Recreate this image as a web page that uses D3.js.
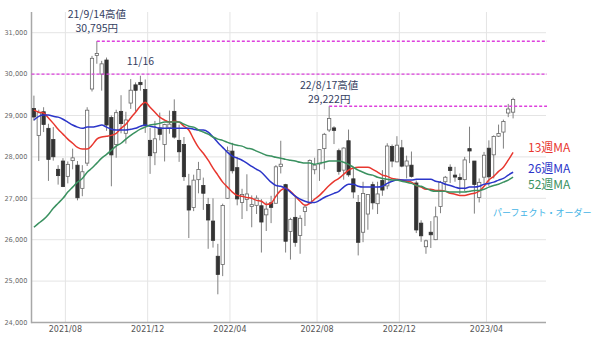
<!DOCTYPE html>
<html>
<head>
<meta charset="utf-8">
<script src="https://cdnjs.cloudflare.com/ajax/libs/d3/7.8.5/d3.min.js"></script>
<style>
    body { margin: 0; background: #fff; }
    svg { display: block; font-family: "Noto Sans CJK JP", "DejaVu Sans", sans-serif; }
    .grid line { stroke: #e4e4e4; stroke-width: 1; }
    .axis-line { stroke: #a8a8a8; stroke-width: 1.5; }
    .y-label { font-family: "DejaVu Sans", sans-serif; font-size: 6.6px; fill: #6a6a6a; }
    .x-label { font-family: "DejaVu Sans", sans-serif; font-size: 8px; fill: #555; }
    .wick { stroke: #808080; stroke-width: 1; }
    .high-line { stroke: #dd3fdd; stroke-width: 1.4; stroke-dasharray: 3 2; }
    .note { font-size: 10.5px; fill: #34405f; }
    .ma { fill: none; stroke-width: 1.5; }
</style>
</head>
<body>
<svg width="600" height="337"></svg>
<script>
// weekly candles, one per Friday from 2021-06-18 to 2023-05-12 (Nikkei 225)
const firstFriday = '2021-06-18';
const lastFriday = '2023-05-12';

const opens = [
    29170, 28520, 29090, 28690, 28420, 27700, 27900, 27530, 27910, 27800,
    27240, 27850, 29640, 30450, 30000, 30340, 28950, 28300, 29100, 28570,
    29300, 29740, 29800, 29630, 28400, 28100, 28700, 28300, 28700, 29100,
    28400, 28300, 27300, 26780, 27450, 27310, 26850, 26450, 25600, 25400,
    27000, 28140, 27740, 26900, 26970, 26800, 26830, 26820, 26600, 26890,
    26880, 27770, 27330, 26200, 26540, 26100, 26680, 26880, 27690, 27830,
    28200, 28650, 28700, 28150, 27680, 28390, 27470, 26900, 26180, 26620,
    27330, 26870, 27430, 27300, 28250, 27880, 28220, 27780, 27800, 27370,
    26400, 25830, 26180, 26000, 26800, 27400, 27750, 27560, 27500, 27450,
    28200, 27900, 27020, 27510, 28210, 28050, 28500, 28600, 29060, 29080
];
const highs = [
    29480, 29140, 29200, 28800, 28720, 27800, 27970, 27890, 28200, 27900,
    27800, 29200, 30440, 30795, 30320, 30400, 29000, 29140, 29490, 29090,
    29880, 29800, 29960, 29870, 28700, 28870, 29070, 28800, 29120, 29390,
    28780, 28480, 27590, 27570, 27880, 27500, 27010, 27000, 25900, 26870,
    28250, 28340, 28000, 27230, 27580, 27070, 27070, 26980, 26920, 27060,
    27800, 28390, 27350, 26530, 27060, 26590, 26850, 27940, 27980, 28180,
    28580, 29222, 28740, 28200, 28230, 28660, 27720, 27080, 27400, 27100,
    27400, 27400, 27680, 28330, 28300, 28500, 28410, 28030, 28130, 27430,
    26470, 26000, 26450, 26800, 27420, 27540, 27820, 27760, 27600, 28000,
    28730, 27900, 27480, 28120, 28400, 28520, 28780, 28900, 29280, 29430
];
const lows = [
    28870, 27900, 28600, 27420, 27910, 27330, 27270, 27360, 27700, 26950,
    27050, 27780, 29580, 30250, 29600, 28630, 27290, 27980, 28570, 28320,
    29160, 29100, 29600, 28580, 27590, 27800, 28400, 27890, 28560, 28440,
    27880, 27420, 26040, 26690, 27120, 26720, 25780, 25810, 24681, 25120,
    26990, 27600, 26830, 26500, 26690, 26300, 26620, 25690, 26210, 26400,
    26880, 27600, 25690, 25520, 25830, 25660, 26330, 26860, 27580, 27420,
    27700, 28600, 28310, 27570, 27450, 27520, 27000, 25620, 25940, 26240,
    26730, 26620, 27060, 27220, 27750, 27870, 27750, 27480, 27500, 26160,
    25950, 25660, 25800, 25990, 26640, 27200, 27370, 27400, 27100, 27170,
    27850, 26630, 26900, 27360, 27300, 27480, 28480, 28200, 28960, 28930
];
const closes = [
    28964, 29066, 28783, 27940, 28003, 27548, 27283, 27820, 27977, 27013,
    27641, 29128, 30381, 30500, 30248, 28771, 28048, 29068, 28804, 28892,
    29611, 29609, 29745, 28751, 28029, 28437, 28545, 28782, 28791, 28478,
    28124, 27522, 26717, 27439, 27696, 27122, 26476, 25985, 25162, 26827,
    28149, 27665, 26985, 27093, 27105, 26847, 27003, 26427, 26739, 26781,
    27761, 27824, 25963, 26491, 25935, 26517, 26788, 27914, 27801, 28175,
    28546, 28930, 28641, 27650, 28214, 27567, 27153, 25937, 27116, 27090,
    26890, 27105, 27199, 28263, 27899, 28283, 27777, 27901, 27527, 26235,
    26094, 25973, 26119, 26553, 27382, 27509, 27670, 27513, 27453, 27927,
    28143, 27333, 27385, 28041, 27518, 28493, 28564, 28856, 29157, 29388
];

// moving averages as drawn (13, 26, 52 weeks)
const ma13 = [
    29130, 29080, 29060, 28940, 28810, 28670, 28550, 28430, 28330, 28230,
    28190, 28190, 28280, 28430, 28480, 28500, 28520, 28570, 28690, 28790,
    28940, 29080, 29230, 29320, 29200, 29080, 28960, 28890, 28840, 28860,
    28840, 28740, 28650, 28430, 28230, 28090, 27920, 27730, 27560, 27390,
    27270, 27150, 27070, 27050, 27020, 27000, 26950, 26930, 26850, 26880,
    27050, 27190, 27240, 27170, 27050, 26930, 26830, 26880, 26980, 27070,
    27190, 27310, 27410, 27480, 27580, 27680, 27730, 27750, 27750, 27750,
    27700, 27630, 27560, 27530, 27480, 27460, 27440, 27410, 27390, 27310,
    27270, 27220, 27220, 27190, 27190, 27170, 27120, 27100, 27070, 27070,
    27100, 27120, 27170, 27290, 27440, 27530, 27650, 27750, 27920, 28110
];
const ma26 = [
    28890, 28980, 29010, 29010, 28980, 28960, 28910, 28840, 28770, 28720,
    28690, 28720, 28720, 28740, 28770, 28720, 28670, 28650, 28650, 28650,
    28670, 28690, 28740, 28770, 28740, 28720, 28690, 28690, 28690, 28690,
    28690, 28690, 28690, 28670, 28650, 28650, 28600, 28480, 28350, 28230,
    28110, 28020, 27970, 27920, 27850, 27770, 27700, 27630, 27510, 27390,
    27310, 27290, 27240, 27150, 27050, 26980, 26930, 26900, 26900, 26950,
    27020, 27070, 27120, 27170, 27270, 27340, 27340, 27290, 27270, 27270,
    27270, 27270, 27290, 27360, 27410, 27440, 27440, 27440, 27440, 27460,
    27460, 27460, 27460, 27410, 27390, 27340, 27310, 27270, 27240, 27240,
    27270, 27270, 27290, 27340, 27360, 27390, 27440, 27480, 27560, 27630
];
const ma52 = [
    26300, 26400, 26490, 26610, 26760, 26880, 27000, 27150, 27270, 27390,
    27480, 27630, 27730, 27850, 27970, 28060, 28160, 28260, 28330, 28430,
    28520, 28600, 28670, 28720, 28770, 28790, 28810, 28840, 28840, 28840,
    28840, 28790, 28740, 28720, 28650, 28600, 28550, 28480, 28430, 28400,
    28350, 28310, 28280, 28260, 28210, 28190, 28140, 28090, 28040, 28020,
    27990, 27970, 27940, 27920, 27900, 27870, 27850, 27850, 27820, 27850,
    27870, 27900, 27900, 27900, 27870, 27820, 27750, 27680, 27630, 27580,
    27560, 27510, 27480, 27460, 27440, 27440, 27410, 27390, 27360, 27310,
    27290, 27240, 27190, 27170, 27170, 27170, 27150, 27150, 27150, 27150,
    27170, 27190, 27190, 27220, 27270, 27310, 27340, 27390, 27440, 27510
];

const yTicks = [24000, 25000, 26000, 27000, 28000, 29000, 30000, 31000];
const xTickLabels = ['2021/08', '2021/12', '2022/04', '2022/08', '2022/12', '2023/04'];

// highs marked with dotted lines: week index, value, two label lines
const highNotes = [
    { week: 13, value: 30795, gap: 9, lines: ['21/9/14高値', '30,795円'] },
    { week: 61, value: 29222, gap: 3, lines: ['22/8/17高値', '29,222円'] }
];
const extraNotes = [{ week: 22, value: 29960, text: '11/16' }];
const roundLevel = 30000;

const maSeries = [
    { name: '13週MA', values: ma13, color: '#e8372f' },
    { name: '26週MA', values: ma26, color: '#2b35c9' },
    { name: '52週MA', values: ma52, color: '#3a9160' }
];
const orderLabel = 'パーフェクト・オーダー';

const render = () => {
    const svg = d3.select('svg');
    const margin = { top: 12, left: 31.5, plotRight: 546, bottom: 322.5 };
    const parse = d3.timeParse('%Y-%m-%d');
    const weeks = d3.timeFriday.range(parse(firstFriday), d3.timeDay.offset(parse(lastFriday), 1));

    const data = weeks.map((d, i) => ({
        date: d, open: opens[i], high: highs[i], low: lows[i], close: closes[i]
    }));

    const xScale = d3.scaleBand()
        .domain(d3.range(data.length))
        .range([margin.left, margin.left + 4.84 * data.length]);
    const step = xScale.step();
    const cx = i => xScale(i) + step / 2;

    const yScale = d3.scaleLinear()
        .domain([24000, 31500])
        .range([margin.bottom, margin.top]);

    const fmt = d3.timeFormat('%Y/%m');
    const tickWeeks = xTickLabels.map(l => data.findIndex(d => fmt(d.date) === l));

    addGrid(svg, tickWeeks, xScale, yScale, margin);
    addAxes(svg, tickWeeks, xScale, yScale, margin);
    addCandles(svg, data, cx, yScale, step);
    addHighLines(svg, cx, yScale, margin);
    addMovingAverages(svg, cx, yScale);
    addLabels(svg, cx, yScale);
};

//Horizontal grid per 1,000 and vertical grid per labelled month
const addGrid = (svg, tickWeeks, xScale, yScale, margin) => {
    const g = svg.append('g').attr('class', 'grid');

    g.selectAll('.h').data(yTicks).enter().append('line')
        .attr('x1', margin.left).attr('x2', margin.plotRight)
        .attr('y1', d => yScale(d)).attr('y2', d => yScale(d));

    g.selectAll('.v').data(tickWeeks).enter().append('line')
        .attr('x1', d => xScale(d)).attr('x2', d => xScale(d))
        .attr('y1', margin.top).attr('y2', margin.bottom);
};

const addAxes = (svg, tickWeeks, xScale, yScale, margin) => {
    svg.selectAll('.y-label').data(yTicks).enter().append('text')
        .attr('class', 'y-label')
        .attr('x', margin.left - 4)
        .attr('y', d => yScale(d))
        .attr('dy', '0.35em')
        .attr('text-anchor', 'end')
        .text(d3.format(','));

    svg.selectAll('.x-label').data(tickWeeks).enter().append('text')
        .attr('class', 'x-label')
        .attr('x', d => xScale(d))
        .attr('y', margin.bottom + 9.5)
        .attr('text-anchor', 'middle')
        .text((d, i) => xTickLabels[i]);

    svg.append('line').attr('class', 'axis-line')
        .attr('x1', margin.left).attr('x2', margin.left)
        .attr('y1', margin.top).attr('y2', margin.bottom + 0.7);
    svg.append('line').attr('class', 'axis-line')
        .attr('x1', margin.left).attr('x2', margin.plotRight)
        .attr('y1', margin.bottom).attr('y2', margin.bottom);
};

const addCandles = (svg, data, cx, yScale, step) => {
    const bodyW = step * 0.68;
    const g = svg.append('g');

    g.selectAll('.wick').data(data).enter().append('line')
        .attr('class', 'wick')
        .attr('x1', (d, i) => cx(i)).attr('x2', (d, i) => cx(i))
        .attr('y1', d => yScale(d.high)).attr('y2', d => yScale(d.low));

    g.selectAll('.body').data(data).enter().append('rect')
        .attr('x', (d, i) => cx(i) - bodyW / 2)
        .attr('y', d => yScale(Math.max(d.open, d.close)))
        .attr('width', bodyW)
        .attr('height', d => Math.max(1.2, Math.abs(yScale(d.open) - yScale(d.close))))
        .attr('fill', d => d.close >= d.open ? '#fff' : '#333')
        .attr('stroke', d => d.close >= d.open ? '#666' : '#333')
        .attr('stroke-width', 0.8);
};

//Dotted lines from the two highs and the 30,000 level
const addHighLines = (svg, cx, yScale, margin) => {
    const levels = highNotes.map(n => ({ x1: cx(n.week), value: n.value }))
        .concat([{ x1: margin.left, value: roundLevel }]);

    svg.selectAll('.high-line').data(levels).enter().append('line')
        .attr('class', 'high-line')
        .attr('x1', d => d.x1).attr('x2', margin.plotRight + 1)
        .attr('y1', d => yScale(d.value)).attr('y2', d => yScale(d.value));
};

const addMovingAverages = (svg, cx, yScale) => {
    const line = d3.line()
        .x((d, i) => cx(i))
        .y(d => yScale(d))
        .curve(d3.curveMonotoneX);

    svg.selectAll('.ma').data(maSeries).enter().append('path')
        .attr('class', 'ma')
        .attr('stroke', d => d.color)
        .attr('d', d => line(d.values));
};

const addLabels = (svg, cx, yScale) => {
    highNotes.forEach(n => {
        const y0 = yScale(n.value) - n.gap;
        n.lines.forEach((t, k) => {
            svg.append('text').attr('class', 'note')
                .attr('x', cx(n.week))
                .attr('y', y0 - (1 - k) * 14)
                .attr('text-anchor', 'middle')
                .text(t);
        });
    });

    extraNotes.forEach(n => {
        svg.append('text').attr('class', 'note')
            .attr('x', cx(n.week)).attr('y', yScale(n.value) - 11)
            .attr('text-anchor', 'middle').text(n.text);
    });

    // legend at the right edge
    const legendY = [152, 173, 189];
    svg.selectAll('.legend').data(maSeries).enter().append('text')
        .attr('x', 528)
        .attr('y', (d, i) => legendY[i])
        .attr('font-size', '12px')
        .attr('fill', d => d.color)
        .text(d => d.name);

    svg.append('text')
        .attr('x', 493).attr('y', 216)
        .attr('font-size', '9px')
        .attr('fill', '#45b4e6')
        .text(orderLabel);
};

render();
</script>
</body>
</html>
